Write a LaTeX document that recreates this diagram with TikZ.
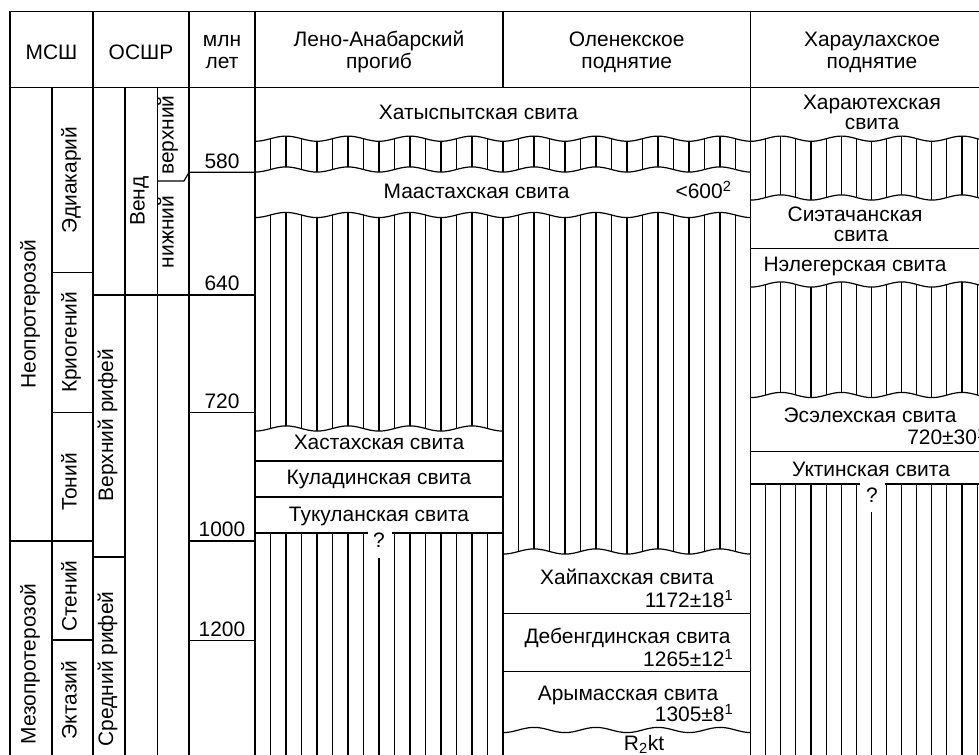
\documentclass[tikz,border=0pt]{standalone}
\usepackage{fontspec}
\setmainfont{Liberation Sans}
\begin{document}
\begin{tikzpicture}[x=0.75pt,y=-0.75pt,line width=0.9pt,
  every node/.style={inner sep=0pt,font=\fontsize{15.7}{18}\selectfont},
  tx/.style={anchor=base},
  txr/.style={anchor=base east},
  txl/.style={anchor=base west},
  vt/.style={rotate=90,anchor=mid},
  ht/.style={line width=0.8pt},
  declare function={wv(\t,\c)=\c-2.6*cos((\t-286)*5.80645);
                    hv(\t,\c)=\c-2.6*cos((\t-781)*5.96026);}]
\useasboundingbox (0,0) rectangle (979,755);
\clip (0,0) rectangle (979,755);

% ---------- frame ----------
\draw (10,770) -- (10,11.7) -- (1000,11.7);
\draw (10,87.5) -- (1000,87.5);
\foreach \xx in {93,189,255,750.5} \draw (\xx,11.7) -- (\xx,770);
\draw (503,11.7) -- (503,87.5);
\foreach \xx in {52,125,157.7} \draw (\xx,87.5) -- (\xx,770);

% left columns horizontals
\draw (10,541) -- (93,541);
\draw (52,272.7) -- (93,272.7);
\draw (52,412.7) -- (93,412.7);
\draw (52,640) -- (93,640);
\draw (93,295) -- (255,295);
\draw (93,557) -- (125,557);
\draw (157.7,181) -- (184,181) -- (189,172.3) -- (255,172.3);
\draw (189,412.7) -- (255,412.7);
\draw (189,541) -- (255,541);
\draw (189,640.7) -- (255,640.7);

% ---------- header texts ----------
\node[tx] (h1) at (51.5,60) {МСШ};
\node[tx] (h2) at (141,60) {ОСШР};
\node[tx] (h3a) at (222,46.7) {млн};
\node[tx] (h3b) at (222,68.3) {лет};
\node[tx] (h4a) at (379,46.7) {Лено-Анабарский};
\node[tx] (h4b) at (379,68.3) {прогиб};
\node[tx] (h5a) at (626.7,46.7) {Оленекское};
\node[tx] (h5b) at (626.7,68.3) {поднятие};
\node[tx] (h6a) at (872,46.7) {Хараулахское};
\node[tx] (h6b) at (872,68.3) {поднятие};

% ---------- vertical labels ----------
\node[vt] (e1) at (32,314) {Неопротерозой};
\node[vt] (e2) at (32,664) {Мезопротерозой};
\node[vt] (p1) at (73,180) {Эдиакарий};
\node[vt] (p2) at (73,342.5) {Криогений};
\node[vt] (p3) at (73,482) {Тоний};
\node[vt] (p4) at (73,596) {Стений};
\node[vt] (p5) at (73,700) {Эктазий};
\node[vt] (r1) at (109.5,425) {Верхний рифей};
\node[vt] (r2) at (109.5,669) {Средний рифей};
\node[vt] (v1) at (141,201) {Венд};
\node[vt] (v2) at (170,135) {верхний};
\node[vt] (v3) at (170,232) {нижний};

% ---------- ages ----------
\node[tx] (a1) at (222,168.3) {580};
\node[tx] (a2) at (222,290.5) {640};
\node[tx] (a3) at (222,408.2) {720};
\node[tx] (a4) at (222,536.7) {1000};
\node[tx] (a5) at (222,636.4) {1200};

% ---------- hatching: Лено/Оленек band ----------
\begin{scope}
\clip plot[domain=255:750.5,samples=120] (\x,{wv(\x,138.7)}) -- (750.5,800) -- (255,800) -- cycle;
\clip plot[domain=255:750.5,samples=120] (\x,{wv(\x,169.5)}) -- (750.5,0) -- (255,0) -- cycle;
\foreach \k in {1,...,31} \draw[ht] ({255+15.5*\k},120) -- ({255+15.5*\k},190);
\end{scope}
% Лено hatched below Маастахская
\begin{scope}
\clip plot[domain=255:503,samples=80] (\x,{wv(\x,215)}) -- (503,800) -- (255,800) -- cycle;
\clip plot[domain=255:503,samples=80] (\x,{wv(\x,428.5)}) -- (503,0) -- (255,0) -- cycle;
\foreach \k in {1,...,15} \draw[ht] ({255+15.5*\k},200) -- ({255+15.5*\k},440);
\end{scope}
% Оленек hatched below Маастахская
\begin{scope}
\clip plot[domain=503:750.5,samples=80] (\x,{wv(\x,215)}) -- (750.5,800) -- (503,800) -- cycle;
\clip plot[domain=503:750.5,samples=80] (\x,{wv(\x,551.5)}) -- (750.5,0) -- (503,0) -- cycle;
\foreach \k in {17,...,31} \draw[ht] ({255+15.5*\k},200) -- ({255+15.5*\k},560);
\end{scope}
\draw (503,{wv(503,215)}) -- (503,770);
% Лено hatched below Тукуланская
\foreach \k in {1,...,7,9,10,...,15} \draw[ht] ({255+15.5*\k},533) -- ({255+15.5*\k},770);
\draw[ht] (379,558) -- (379,770);

% ---------- hatching: Хараулахское ----------
\begin{scope}
\clip plot[domain=750.5:1000,samples=80] (\x,{hv(\x,138.7)}) -- (1000,800) -- (750.5,800) -- cycle;
\clip plot[domain=750.5:1000,samples=80] (\x,{hv(\x,197.5)}) -- (1000,0) -- (750.5,0) -- cycle;
\foreach \k in {1,...,16} \draw[ht] ({750.6+15.1*\k},120) -- ({750.6+15.1*\k},210);
\end{scope}
\begin{scope}
\clip plot[domain=750.5:1000,samples=80] (\x,{hv(\x,284.5)}) -- (1000,800) -- (750.5,800) -- cycle;
\clip plot[domain=750.5:1000,samples=80] (\x,{hv(\x,395)}) -- (1000,0) -- (750.5,0) -- cycle;
\foreach \k in {1,...,16} \draw[ht] ({750.6+15.1*\k},270) -- ({750.6+15.1*\k},410);
\end{scope}
\foreach \k in {1,...,7,9,10,...,16} \draw[ht] ({750.6+15.1*\k},484) -- ({750.6+15.1*\k},770);
\draw[ht] (871.4,512) -- (871.4,770);

% ---------- waves ----------
\draw plot[domain=255:750.5,samples=120] (\x,{wv(\x,138.7)});
\draw plot[domain=255:750.5,samples=120] (\x,{wv(\x,169.5)});
\draw plot[domain=255:750.5,samples=120] (\x,{wv(\x,215)});
\draw plot[domain=255:503,samples=80] (\x,{wv(\x,428.5)});
\draw plot[domain=503:750.5,samples=80] (\x,{wv(\x,551.5)});
\draw plot[domain=503:750.5,samples=80] (\x,{wv(\x,730)});
\draw plot[domain=750.5:1000,samples=80] (\x,{hv(\x,138.7)});
\draw plot[domain=750.5:1000,samples=80] (\x,{hv(\x,197.5)});
\draw plot[domain=750.5:1000,samples=80] (\x,{hv(\x,284.5)});
\draw plot[domain=750.5:1000,samples=80] (\x,{hv(\x,395)});

% ---------- straight formation boundaries ----------
\draw (255,461) -- (503,461);
\draw (255,497) -- (503,497);
\draw (255,533) -- (368,533);
\draw (392,533) -- (503,533);
\draw (503,613.3) -- (750.5,613.3);
\draw (503,671.7) -- (750.5,671.7);
\draw (750.5,248.3) -- (1000,248.3);
\draw (750.5,451.7) -- (1000,451.7);
\draw (750.5,484) -- (860,484);
\draw (885,484) -- (1000,484);

% ---------- formation texts ----------
\node[tx] (f1) at (478.5,120) {Хатыспытская свита};
\node[tx] (f2) at (476.5,198.3) {Маастахская свита};
\node[txl] (f2a) at (675,198.3) {<600\textsuperscript{2}};
\node[tx] (g1a) at (872,110) {Хараютехская};
\node[tx] (g1b) at (872,130) {свита};
\node[tx] (g2a) at (855,221.7) {Сиэтачанская};
\node[tx] (g2b) at (861,241.7) {свита};
\node[tx] (g3) at (855,271.7) {Нэлегерская свита};
\node[tx] (g4) at (870,423) {Эсэлехская свита};
\node[txl] (g4a) at (906.7,445) {720±30\textsuperscript{1}};
\node[tx] (g5) at (871,477) {Уктинская свита};
\node[tx] (g5q) at (872,503) {?};
\node[tx] (l1) at (379,450) {Хастахская свита};
\node[tx] (l2) at (379,485) {Куладинская свита};
\node[tx] (l3) at (379,521.7) {Тукуланская свита};
\node[tx] (l3q) at (379,548) {?};
\node[tx] (o1) at (627,585) {Хайпахская свита};
\node[txr] (o1a) at (734,607.3) {1172±18\textsuperscript{1}};
\node[tx] (o2) at (627.5,643.3) {Дебенгдинская свита};
\node[txr] (o2a) at (734,666.7) {1265±12\textsuperscript{1}};
\node[tx] (o3) at (628,700) {Арымасская свита};
\node[txr] (o3a) at (734,721.7) {1305±8\textsuperscript{1}};
\node[tx] (o4) at (644,750) {R\textsubscript{2}kt};
\end{tikzpicture}
\end{document}
